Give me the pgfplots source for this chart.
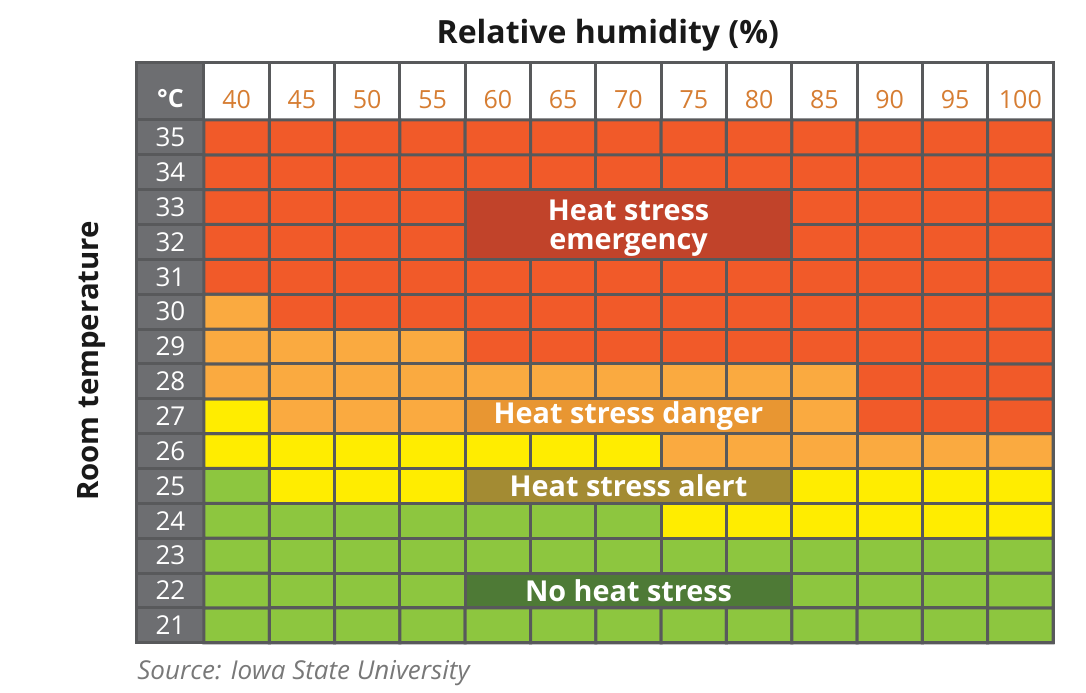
\documentclass[border=0pt]{standalone}
\usepackage{pgfplots}
\pgfplotsset{compat=1.18}
\usepackage{pgfplotstable}
\usepackage{fontspec}
\setmainfont{Open Sans}
\definecolor{gridc}{RGB}{88,89,91}
\definecolor{grayc}{RGB}{109,110,113}
\definecolor{hdrc}{RGB}{214,125,50}
\definecolor{emerg}{RGB}{193,67,42}
\definecolor{dang}{RGB}{232,150,50}
\definecolor{alertc}{RGB}{163,139,51}
\definecolor{nostress}{RGB}{78,122,54}
\definecolor{srcc}{RGB}{120,120,120}
\tikzset{
  hdr/.style={text=hdrc, font=\fontsize{12.5}{15}\selectfont},
  rowl/.style={text=white, font=\fontsize{13}{15}\selectfont},
  gl/.style={gridc, line width=1.5pt},
  boxl/.style={text=white, font=\fontsize{14.4}{14.6}\selectfont\bfseries, align=center},
}
% c: 0 = no stress, 1 = alert, 2 = danger, 3 = emergency
\pgfplotstableread{
x y c
0 0 0
1 0 0
2 0 0
3 0 0
4 0 0
5 0 0
6 0 0
7 0 0
8 0 0
9 0 0
10 0 0
11 0 0
12 0 0
0 1 0
1 1 0
2 1 0
3 1 0
4 1 0
5 1 0
6 1 0
7 1 0
8 1 0
9 1 0
10 1 0
11 1 0
12 1 0
0 2 0
1 2 0
2 2 0
3 2 0
4 2 0
5 2 0
6 2 0
7 2 0
8 2 0
9 2 0
10 2 0
11 2 0
12 2 0
0 3 0
1 3 0
2 3 0
3 3 0
4 3 0
5 3 0
6 3 0
7 3 1
8 3 1
9 3 1
10 3 1
11 3 1
12 3 1
0 4 0
1 4 1
2 4 1
3 4 1
4 4 1
5 4 1
6 4 1
7 4 1
8 4 1
9 4 1
10 4 1
11 4 1
12 4 1
0 5 1
1 5 1
2 5 1
3 5 1
4 5 1
5 5 1
6 5 1
7 5 2
8 5 2
9 5 2
10 5 2
11 5 2
12 5 2
0 6 1
1 6 2
2 6 2
3 6 2
4 6 2
5 6 2
6 6 2
7 6 2
8 6 2
9 6 2
10 6 3
11 6 3
12 6 3
0 7 2
1 7 2
2 7 2
3 7 2
4 7 2
5 7 2
6 7 2
7 7 2
8 7 2
9 7 2
10 7 3
11 7 3
12 7 3
0 8 2
1 8 2
2 8 2
3 8 2
4 8 3
5 8 3
6 8 3
7 8 3
8 8 3
9 8 3
10 8 3
11 8 3
12 8 3
0 9 2
1 9 3
2 9 3
3 9 3
4 9 3
5 9 3
6 9 3
7 9 3
8 9 3
9 9 3
10 9 3
11 9 3
12 9 3
0 10 3
1 10 3
2 10 3
3 10 3
4 10 3
5 10 3
6 10 3
7 10 3
8 10 3
9 10 3
10 10 3
11 10 3
12 10 3
0 11 3
1 11 3
2 11 3
3 11 3
4 11 3
5 11 3
6 11 3
7 11 3
8 11 3
9 11 3
10 11 3
11 11 3
12 11 3
0 12 3
1 12 3
2 12 3
3 12 3
4 12 3
5 12 3
6 12 3
7 12 3
8 12 3
9 12 3
10 12 3
11 12 3
12 12 3
0 13 3
1 13 3
2 13 3
3 13 3
4 13 3
5 13 3
6 13 3
7 13 3
8 13 3
9 13 3
10 13 3
11 13 3
12 13 3
0 14 3
1 14 3
2 14 3
3 14 3
4 14 3
5 14 3
6 14 3
7 14 3
8 14 3
9 14 3
10 14 3
11 14 3
12 14 3
}\heatdata
\begin{document}
\begin{tikzpicture}
\begin{axis}[
  x=32.667pt, y=17.435pt,
  xmin=-1.526, xmax=12.5, ymin=-0.5, ymax=16.135,
  hide axis, clip=false,
  colormap={heat}{rgb255=(141,198,63) rgb255=(255,237,0) rgb255=(250,170,64) rgb255=(241,90,41)},
  colormap access=direct,
]
\path (axis cs:-3.623,-1.934) rectangle (axis cs:13.005,17.94);
% header and gray column
\fill[grayc] (axis cs:-1.526,-0.5) rectangle (axis cs:-0.5,16.135);
\fill[white] (axis cs:-0.5,14.5) rectangle (axis cs:12.5,16.135);
\addplot[matrix plot*, mesh/cols=13, point meta=explicit, shader=faceted, faceted color=gridc, line width=1.5pt]
  table[x=x,y=y,meta=c]{\heatdata};
% grid lines on header and gray column
\pgfplotsinvokeforeach{-0.5,0.5,...,12.5}{
  \draw[gl] (axis cs:#1,14.5) -- (axis cs:#1,16.135);
}
\pgfplotsinvokeforeach{-0.5,0.5,...,14.5}{
  \draw[gl] (axis cs:-1.526,#1) -- (axis cs:-0.5,#1);
}
\draw[gl] (axis cs:-1.526,-0.5) rectangle (axis cs:12.5,16.135);
% header labels
\foreach \v [count=\k from 0] in {40,45,50,55,60,65,70,75,80,85,90,95,100} {
  \edef\tmp{\noexpand\node[hdr] at (axis cs:\k,15.07) {\v};}\tmp
}
\foreach \t [count=\k from 0] in {21,22,23,24,25,26,27,28,29,30,31,32,33,34,35} {
  \edef\tmp{\noexpand\node[rowl] at (axis cs:-1.013,\k) {\t};}\tmp
}
\node[text=white, font=\fontsize{12.5}{14}\selectfont\bfseries] at (axis cs:-1.013,15.12) {°C};
% category boxes
\draw[gl, fill=emerg] (axis cs:3.5,10.5) rectangle (axis cs:8.5,12.5);
\node[boxl] at (axis cs:6,11.4) {Heat stress\\emergency};
\draw[gl, fill=dang] (axis cs:3.5,5.5) rectangle (axis cs:8.5,6.5);
\node[boxl] at (axis cs:6,6) {Heat stress danger};
\draw[gl, fill=alertc] (axis cs:3.5,3.5) rectangle (axis cs:8.5,4.5);
\node[boxl] at (axis cs:6,4) {Heat stress alert};
\draw[gl, fill=nostress] (axis cs:3.5,0.5) rectangle (axis cs:8.5,1.5);
\node[boxl] at (axis cs:6,1) {No heat stress};
% titles
\node[font=\fontsize{16}{18}\selectfont\bfseries, text=black!90] at (axis cs:5.684,16.936) {Relative humidity (\%)};
\node[font=\fontsize{14.7}{16}\selectfont\bfseries, text=black!90, rotate=90] at (axis cs:-2.214,7.587) {Room temperature};
\node[font=\fontsize{13}{15}\selectfont\itshape, text=srcc, anchor=west, inner sep=0pt] at (axis cs:-1.526,-1.36) {Source: Iowa State University};
\end{axis}
\end{tikzpicture}
\end{document}
